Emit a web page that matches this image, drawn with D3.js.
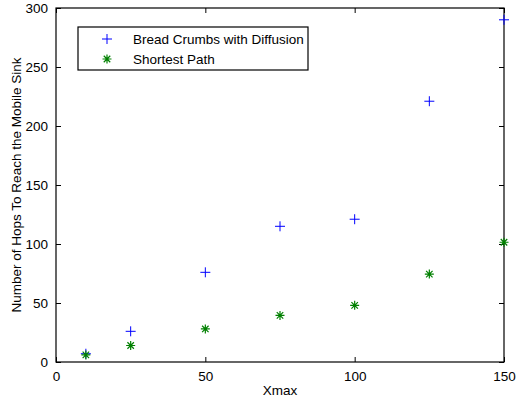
<!DOCTYPE html>
<html>
<head>
<meta charset="utf-8">
<script src="https://cdn.jsdelivr.net/npm/d3@7/dist/d3.min.js"></script>
<style>
  html, body { margin: 0; padding: 0; background: #fff; }
  svg { display: block; font-family: "Liberation Sans", Arial, Helvetica, sans-serif; }
</style>
</head>
<body>
<div id="chart"></div>
<script>
'use strict';

/* ── Data ── */
const xmax = [10, 25, 50, 75, 100, 125, 150];
const breadCrumbs = [7, 26, 76, 115, 121, 221, 290];
const shortestPath = [6, 14, 28, 39.5, 48, 74.5, 101.5];
const xTicks = [0, 50, 100, 150];
const yTicks = [0, 50, 100, 150, 200, 250, 300];
const seriesNames = ['Bread Crumbs with Diffusion', 'Shortest Path'];

/* ── Layout ── */
const W = 516, H = 403;
const m = { left: 56, right: 12, top: 8, bottom: 41 };
const pw = W - m.left - m.right;
const ph = H - m.top - m.bottom;
const fs = '13.5px';

const svg = d3.select('#chart').append('svg')
  .attr('width', W).attr('height', H);

const x = d3.scaleLinear().domain([0, 150]).range([m.left, m.left + pw]);
const y = d3.scaleLinear().domain([0, 300]).range([m.top + ph, m.top]);

const tickLen = 5;

/* ── Axes (MATLAB box with inward ticks) ── */
const styleAxis = g => {
  g.select('.domain').remove();
  g.selectAll('.tick line').attr('stroke', '#000');
  g.selectAll('.tick text').attr('fill', '#000').style('font-size', fs);
};

svg.append('g')
  .attr('transform', `translate(0,${m.top + ph})`)
  .call(d3.axisBottom(x).tickValues(xTicks).tickSizeInner(-tickLen).tickSizeOuter(0).tickPadding(9))
  .call(styleAxis);

svg.append('g')
  .attr('transform', `translate(0,${m.top})`)
  .call(d3.axisTop(x).tickValues(xTicks).tickSizeInner(-tickLen).tickSizeOuter(0).tickFormat(''))
  .call(styleAxis);

svg.append('g')
  .attr('transform', `translate(${m.left},0)`)
  .call(d3.axisLeft(y).tickValues(yTicks).tickSizeInner(-tickLen).tickSizeOuter(0).tickPadding(8))
  .call(styleAxis);

svg.append('g')
  .attr('transform', `translate(${m.left + pw},0)`)
  .call(d3.axisRight(y).tickValues(yTicks).tickSizeInner(-tickLen).tickSizeOuter(0).tickFormat(''))
  .call(styleAxis);

svg.append('rect')
  .attr('x', m.left).attr('y', m.top).attr('width', pw).attr('height', ph)
  .attr('fill', 'none').attr('stroke', '#000').attr('stroke-width', 1.2);

/* ── Markers ── */
function plus(g, cx, cy) {
  const s = 5;
  g.append('path')
    .attr('d', `M${cx - s},${cy}H${cx + s}M${cx},${cy - s}V${cy + s}`)
    .attr('stroke', '#0000ff').attr('stroke-width', 1).attr('fill', 'none');
}
function star(g, cx, cy) {
  const s = 4.5, d = s * 0.72;
  g.append('path')
    .attr('d', `M${cx - s},${cy}H${cx + s}M${cx},${cy - s}V${cy + s}` +
      `M${cx - d},${cy - d}L${cx + d},${cy + d}M${cx - d},${cy + d}L${cx + d},${cy - d}`)
    .attr('stroke', '#008000').attr('stroke-width', 1.2).attr('fill', 'none');
}

const marks = svg.append('g');
xmax.forEach((v, i) => plus(marks, x(v), y(breadCrumbs[i])));
xmax.forEach((v, i) => star(marks, x(v), y(shortestPath[i])));

/* ── Legend ── */
const lg = svg.append('g');
lg.append('rect')
  .attr('x', 78).attr('y', 27).attr('width', 230).attr('height', 43)
  .attr('fill', '#fff').attr('stroke', '#000').attr('stroke-width', 1.2);
plus(lg, 107, 39);
star(lg, 107, 59);
seriesNames.forEach((name, i) => {
  lg.append('text')
    .attr('x', 133).attr('y', 39 + i * 20).attr('dy', '0.35em')
    .style('font-size', fs).text(name);
});

/* ── Axis labels ── */
svg.append('text')
  .attr('x', x(75)).attr('y', 395)
  .attr('text-anchor', 'middle').style('font-size', fs).text('Xmax');

svg.append('text')
  .attr('transform', `translate(21,${m.top + ph / 2}) rotate(-90)`)
  .attr('text-anchor', 'middle').style('font-size', fs)
  .text('Number of Hops To Reach the Mobile Sink');
</script>
</body>
</html>
